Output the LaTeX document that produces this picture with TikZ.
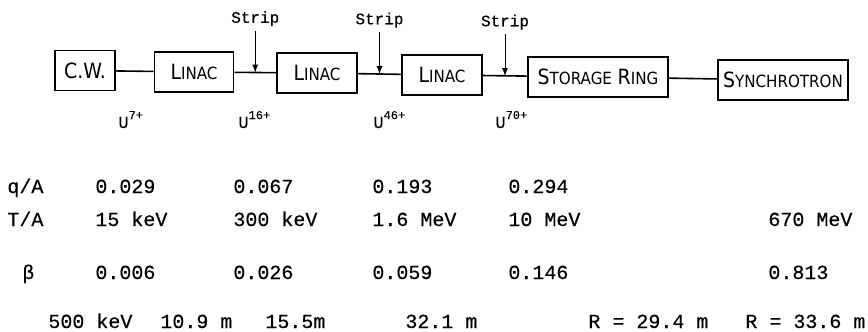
\documentclass[tikz,border=0pt]{standalone}
\usepackage{fontspec}
\setmonofont[FakeBold=0.4]{Liberation Mono}
\newfontfamily\boxfont[FakeStretch=0.9]{DejaVu Sans}
\usetikzlibrary{positioning,calc}
% lettered small caps inside the boxes
\newcommand{\lett}[2]{{\fontsize{10.5}{12}\selectfont #1}{\fontsize{8.4}{10}\selectfont #2}}
\newcommand{\uion}[1]{U\raisebox{4.5pt}{\fontsize{6}{7}\selectfont #1+}}

\begin{document}
\begin{tikzpicture}[x=0.5pt, y=-0.5pt,
  stage/.style={draw, line width=0.9pt, minimum height=20pt, inner sep=0pt, font=\boxfont},
  beam/.style={line width=0.8pt},
  stripnote/.style={font=\ttfamily\fontsize{8}{9}\selectfont, inner sep=2pt},
  ion/.style={font=\ttfamily\fontsize{8.5}{10}\selectfont, anchor=base west, inner sep=0pt},
  val/.style={font=\ttfamily\fontsize{10}{12}\selectfont, anchor=base west, inner sep=0pt},
  >=latex
]
\useasboundingbox (0,0) rectangle (868,332);

% accelerator chain
\node[stage, minimum width=30pt]   (cw) at (85,70.5) {\lett{C.W.}{}};
\node[stage, minimum width=39.5pt] (l1) at (194,72)  {\lett{L}{INAC}};
\node[stage, minimum width=40pt]   (l2) at (317,73)  {\lett{L}{INAC}};
\node[stage, minimum width=40pt]   (l3) at (442,75)  {\lett{L}{INAC}};
\node[stage, minimum width=70pt]   (sr) at (598,77)  {\lett{S}{TORAGE} \lett{R}{ING}};
\node[stage, minimum width=65pt]   (sy) at (783,80)  {\lett{S}{YNCHROTRON}};

\draw[beam] (cw) -- (l1);
\draw[beam] (l1) -- (l2);
\draw[beam] (l2) -- (l3);
\draw[beam] (l3) -- (sr);
\draw[beam] (sr) -- (sy);

% strippers
\coordinate (s1) at ($(l1.east)!0.5!(l2.west)$);
\coordinate (s2) at ($(l2.east)!0.5!(l3.west)$);
\coordinate (s3) at ($(l3.east)!0.5!(sr.west)$);
\node[stripnote, above=21pt of s1] (t1) {Strip};
\node[stripnote, above=21pt of s2] (t2) {Strip};
\node[stripnote, above=21pt of s3] (t3) {Strip};
\draw[->] (t1) -- (s1);
\draw[->] (t2) -- (s2);
\draw[->] (t3) -- (s3);

% charge states
\node[ion] (u7)  at (118,128) {\uion{7}};
\node[ion] (u16) at (238,128) {\uion{16}};
\node[ion] (u46) at (373,128) {\uion{46}};
\node[ion] (u70) at (495,128) {\uion{70}};

% table
\node[val] (qa)  at (7,193)   {q/A};
\node[val] (qa1) at (95,193)  {0.029};
\node[val] (qa2) at (233,193) {0.067};
\node[val] (qa3) at (372,193) {0.193};
\node[val] (qa4) at (508,193) {0.294};

\node[val] (ta)  at (7,226)   {T/A};
\node[val] (ta1) at (95,226)  {15 keV};
\node[val] (ta2) at (233,226) {300 keV};
\node[val] (ta3) at (372,226) {1.6 MeV};
\node[val] (ta4) at (508,226) {10 MeV};
\node[val] (ta5) at (768,226) {670 MeV};

\node[val] (be)  at (22,279)  {β};
\node[val] (be1) at (95,279)  {0.006};
\node[val] (be2) at (233,279) {0.026};
\node[val] (be3) at (372,279) {0.059};
\node[val] (be4) at (508,279) {0.146};
\node[val] (be5) at (768,279) {0.813};

\node[val] (ln1) at (48,328)  {500 keV};
\node[val] (ln2) at (160,328) {10.9 m};
\node[val] (ln3) at (265,328) {15.5m};
\node[val] (ln4) at (405,328) {32.1 m};
\node[val] (ln5) at (588,328) {R = 29.4 m};
\node[val] (ln6) at (745,328) {R = 33.6 m};
\end{tikzpicture}
\end{document}
